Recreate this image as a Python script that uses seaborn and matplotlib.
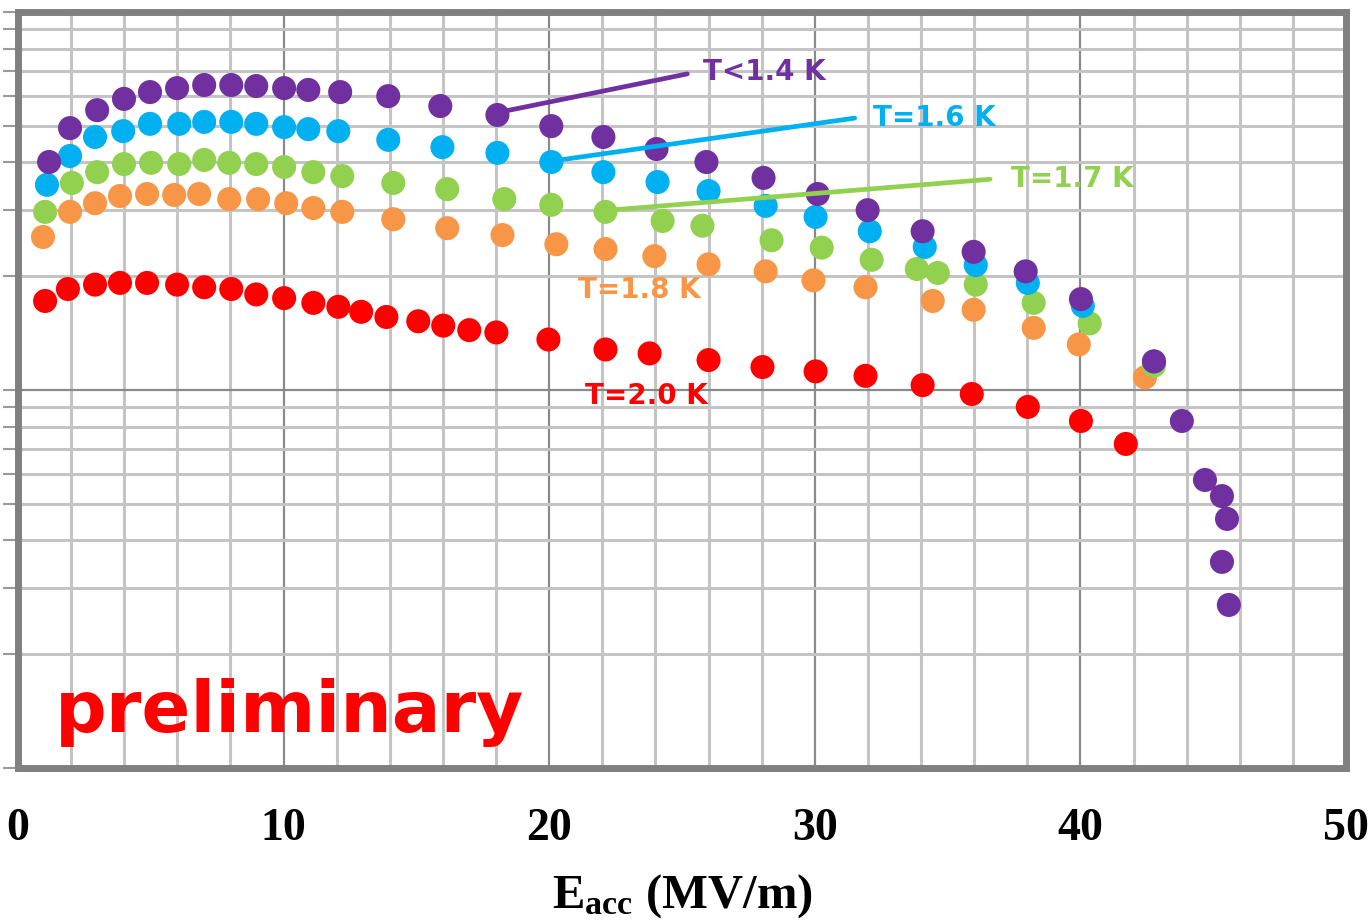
import matplotlib
matplotlib.use("Agg")
import matplotlib.pyplot as plt
import matplotlib.ticker as mticker
import seaborn as sns
import pandas as pd

# --- data: Q0 (units of 1e10) vs Eacc (MV/m) ---
series_names = ["T=2.0 K", "T=1.8 K", "T=1.7 K", "T=1.6 K", "T<1.4 K"]

e_20 = [1.02, 1.88, 2.90, 3.84, 4.86, 5.99, 7.01, 8.03, 8.97, 10.02, 11.12, 12.06, 12.92, 13.87, 15.07,
        16.01, 16.99, 18.01, 19.97, 22.12, 23.78, 26.0, 28.03, 30.03, 31.91, 34.06, 35.91, 38.02, 40.02, 41.71]
q_20 = [1.72, 1.85, 1.90, 1.92, 1.92, 1.90, 1.87, 1.85, 1.79, 1.75, 1.70, 1.66, 1.61, 1.56, 1.52,
        1.48, 1.44, 1.42, 1.36, 1.28, 1.25, 1.20, 1.15, 1.12, 1.09, 1.03, 0.976, 0.902, 0.828, 0.720]

e_18 = [0.94, 1.96, 2.90, 3.84, 4.86, 5.88, 6.82, 7.95, 9.04, 10.10, 11.12, 12.21, 14.13, 16.16,
        18.24, 20.27, 22.12, 23.96, 26.0, 28.15, 29.95, 31.91, 34.44, 35.98, 38.24, 39.94, 42.43]
q_18 = [2.54, 2.96, 3.12, 3.26, 3.30, 3.28, 3.30, 3.20, 3.20, 3.12, 3.03, 2.96, 2.83, 2.68,
        2.57, 2.43, 2.36, 2.26, 2.15, 2.06, 1.95, 1.87, 1.72, 1.63, 1.46, 1.32, 1.08]

e_17 = [1.02, 2.03, 2.98, 3.99, 5.01, 6.07, 7.01, 7.95, 8.97, 10.02, 11.12, 12.21, 14.13, 16.16,
        18.31, 20.08, 22.12, 24.27, 25.77, 28.37, 30.26, 32.14, 33.84, 34.63, 36.06, 38.24, 40.35, 42.77]
q_17 = [2.96, 3.53, 3.77, 3.96, 3.99, 3.96, 4.06, 3.99, 3.96, 3.89, 3.77, 3.68, 3.53, 3.40,
        3.20, 3.09, 2.96, 2.80, 2.72, 2.49, 2.38, 2.21, 2.09, 2.04, 1.90, 1.70, 1.50, 1.16]

e_16 = [1.09, 1.96, 2.90, 3.96, 4.97, 6.07, 7.01, 8.03, 8.97, 10.02, 10.93, 12.06, 13.94, 15.98,
        18.05, 20.08, 22.04, 24.08, 26.0, 28.15, 30.03, 32.07, 34.14, 36.06, 38.02, 40.09, 42.77]
q_16 = [3.49, 4.16, 4.67, 4.84, 5.06, 5.06, 5.12, 5.12, 5.06, 4.96, 4.90, 4.84, 4.59, 4.39,
        4.24, 4.01, 3.77, 3.55, 3.36, 3.07, 2.87, 2.63, 2.39, 2.14, 1.92, 1.67, 1.19]

e_14 = [1.17, 1.96, 2.98, 3.99, 4.97, 5.99, 7.01, 8.03, 8.97, 10.02, 10.93, 12.13, 13.94, 15.90,
        18.05, 20.08, 22.04, 24.04, 25.92, 28.07, 30.11, 31.99, 34.06, 35.98, 37.94, 40.02, 42.77,
        43.82, 44.69, 45.33, 45.52, 45.33, 45.59]
q_14 = [4.01, 4.93, 5.50, 5.89, 6.14, 6.29, 6.41, 6.41, 6.37, 6.29, 6.22, 6.14, 5.99, 5.64,
        5.34, 4.99, 4.67, 4.34, 4.01, 3.64, 3.30, 2.99, 2.63, 2.32, 2.06, 1.74, 1.19,
        0.828, 0.578, 0.524, 0.456, 0.351, 0.270]

colors = {"T=2.0 K": "#FF0000", "T=1.8 K": "#F79646", "T=1.7 K": "#92D050",
          "T=1.6 K": "#00B0F0", "T<1.4 K": "#7030A0"}

frames = []
for name, e, q in zip(series_names, [e_20, e_18, e_17, e_16, e_14], [q_20, q_18, q_17, q_16, q_14]):
    frames.append(pd.DataFrame({"Eacc": e, "Q0": [v * 1e10 for v in q], "T": name}))
df = pd.concat(frames, ignore_index=True)

sns.set_style("white")
plt.rcParams["mathtext.fontset"] = "custom"
plt.rcParams["mathtext.rm"] = "Liberation Serif:bold"
plt.rcParams["mathtext.it"] = "Liberation Serif:bold"

fig = plt.figure(figsize=(13.71, 9.22), dpi=100)
ax = fig.add_axes([18 / 1371, 154 / 922, 1328 / 1371, 756 / 922])

sns.scatterplot(data=df, x="Eacc", y="Q0", hue="T", palette=colors, s=300,
                linewidth=0, legend=False, ax=ax, zorder=3)

ax.set_yscale("log")
ax.set_xlim(0, 50)
ax.set_ylim(1e9, 1e11)

ax.xaxis.set_major_locator(mticker.MultipleLocator(10))
ax.xaxis.set_minor_locator(mticker.MultipleLocator(2))
ax.yaxis.set_major_locator(mticker.LogLocator(base=10))
ax.yaxis.set_minor_locator(mticker.LogLocator(base=10, subs=range(2, 10)))
ax.yaxis.set_major_formatter(mticker.NullFormatter())
ax.yaxis.set_minor_formatter(mticker.NullFormatter())

ax.grid(which="minor", color="#c4c4c4", linewidth=2.2, zorder=0)
ax.grid(which="major", color="#8a8a8a", linewidth=1.6, zorder=0)

for sp in ax.spines.values():
    sp.set_color("#808080")
    sp.set_linewidth(5)

ax.tick_params(axis="x", which="major", direction="out", length=14, width=1.5, color="#999999",
               labelsize=33, labelcolor="black", pad=15)
ax.tick_params(axis="x", which="minor", length=0)
ax.tick_params(axis="y", which="both", direction="out", length=11, width=1.5, color="#999999", left=True)
for lab in ax.get_xticklabels():
    lab.set_fontfamily("Liberation Serif")
    lab.set_fontweight("bold")

ax.set_xlabel(r"E$_{\mathrm{acc}}$ (MV/m)", fontfamily="Liberation Serif", fontweight="bold",
              fontsize=35, color="black", labelpad=16)
ax.set_ylabel("")

# --- labels and leader lines ---
lab_font = dict(fontfamily="DejaVu Sans", fontweight="bold", fontsize=20, va="center", ha="left")
ax.annotate("", xy=(18.4, 5.48e10), xytext=(25.2, 6.86e10),
            arrowprops=dict(arrowstyle="-", color=colors["T<1.4 K"], lw=3.4, shrinkA=0, shrinkB=0))
ax.text(25.8, 6.94e10, "T<1.4 K", color=colors["T<1.4 K"], **lab_font)

ax.annotate("", xy=(20.5, 4.07e10), xytext=(31.5, 5.24e10),
            arrowprops=dict(arrowstyle="-", color=colors["T=1.6 K"], lw=3.4, shrinkA=0, shrinkB=0))
ax.text(32.2, 5.24e10, "T=1.6 K", color=colors["T=1.6 K"], **lab_font)

ax.annotate("", xy=(22.5, 3.0e10), xytext=(36.6, 3.61e10),
            arrowprops=dict(arrowstyle="-", color=colors["T=1.7 K"], lw=3.4, shrinkA=0, shrinkB=0))
ax.text(37.4, 3.61e10, "T=1.7 K", color=colors["T=1.7 K"], **lab_font)

ax.text(21.1, 1.84e10, "T=1.8 K", color=colors["T=1.8 K"], **lab_font)
ax.text(21.35, 0.964e10, "T=2.0 K", color=colors["T=2.0 K"], **lab_font)

ax.text(0.028, 0.048, "preliminary", transform=ax.transAxes, color="#FF0000",
        fontfamily="DejaVu Sans", fontweight="bold", fontsize=52, va="baseline", ha="left")

fig.savefig("out.png", dpi=100)
